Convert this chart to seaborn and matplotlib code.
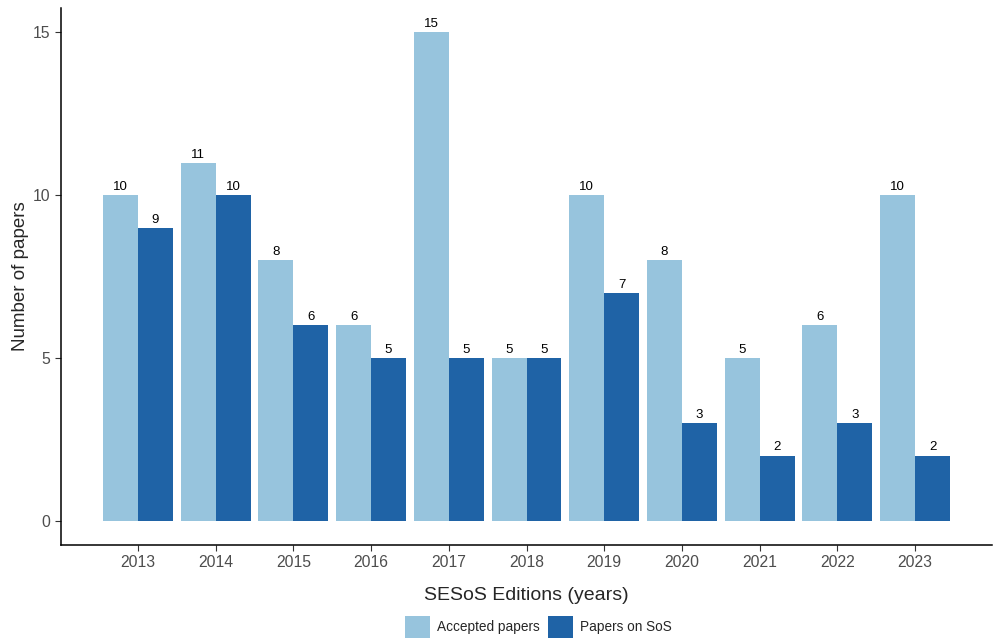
import pandas as pd
import matplotlib
matplotlib.use('Agg')
import matplotlib.pyplot as plt
import seaborn as sns

years = ['2013', '2014', '2015', '2016', '2017', '2018', '2019', '2020', '2021', '2022', '2023']
accepted = [10, 11, 8, 6, 15, 5, 10, 8, 5, 6, 10]
sos = [9, 10, 6, 5, 5, 5, 7, 3, 2, 3, 2]
series = ['Accepted papers', 'Papers on SoS']
colors = ['#97c4dd', '#1f63a6']

df = pd.DataFrame({
    'year': years * 2,
    'papers': accepted + sos,
    'kind': [series[0]] * len(years) + [series[1]] * len(years),
})

sns.set_style('white')
plt.rcParams['font.family'] = ['Liberation Sans', 'DejaVu Sans']

fig = plt.figure(figsize=(9.93, 6.42), dpi=100)
ax = fig.add_axes([61 / 993, 1 - 545 / 642, 931 / 993, 537 / 642])

sns.barplot(data=df, x='year', y='papers', hue='kind', palette=colors,
            width=0.9, gap=0, saturation=1, linewidth=0, ax=ax, legend=True)

for c in ax.containers:
    ax.bar_label(c, fontsize=9.5, padding=1.5, color='black')

ax.set_ylim(-0.75, 15.75)
ax.set_xlim(-0.99, 10.99)
ax.set_yticks([0, 5, 10, 15])
ax.set_xlabel('SESoS Editions (years)', fontsize=14, labelpad=12)
ax.set_ylabel('Number of papers', fontsize=13.5, labelpad=3)
ax.tick_params(axis='both', labelsize=11.3, labelcolor='#4d4d4d', length=4,
               width=0.8, color='#333333', bottom=True, left=True)
for s in ['top', 'right']:
    ax.spines[s].set_visible(False)
for s in ['left', 'bottom']:
    ax.spines[s].set_color('black')
    ax.spines[s].set_linewidth(1.1)

handles, labels = ax.get_legend_handles_labels()
ax.get_legend().remove()
fig.legend(handles, labels, loc='center', bbox_to_anchor=(538 / 993, 1 - 627 / 642),
           ncol=2, frameon=False, fontsize=9.8, handlelength=1.85,
           handleheight=2.1, columnspacing=0.6, handletextpad=0.5)

fig.savefig('out.png', dpi=100)
